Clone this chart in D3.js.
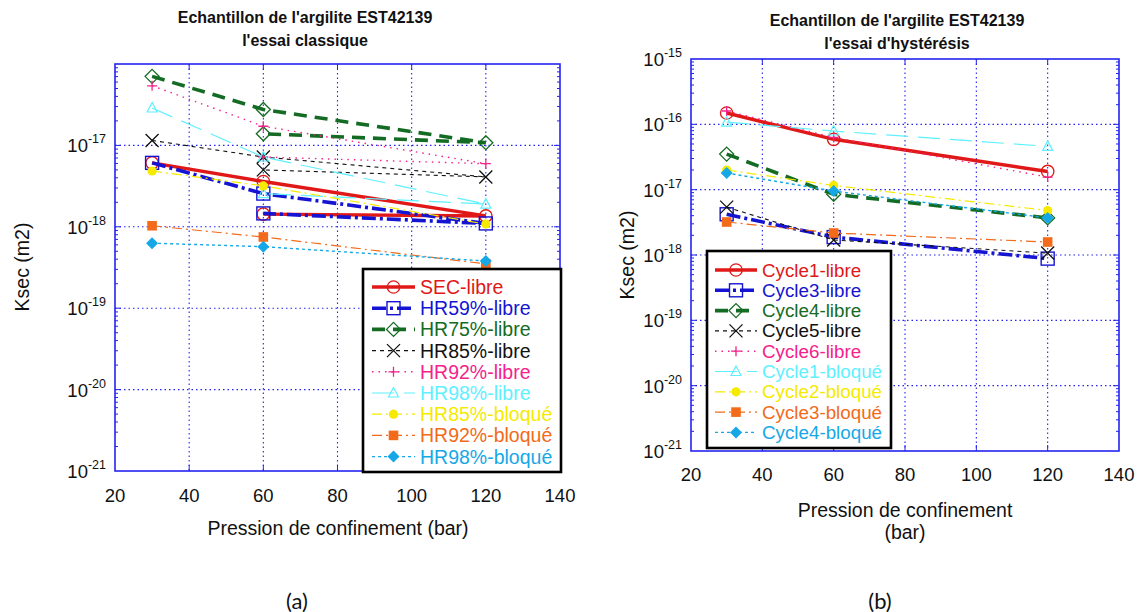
<!DOCTYPE html>
<html>
<head>
<meta charset="utf-8">
<script src="https://cdn.jsdelivr.net/npm/d3@7"></script>
<style>
  html, body { margin: 0; padding: 0; background: #fff; }
  svg { display: block; font-family: "Liberation Sans", Arial, sans-serif; }
</style>
</head>
<body>
<svg id="chart" width="1137" height="612"></svg>
<script>
// ---------- DATA ----------
const pressuresLoop = [30, 60, 120, 60];   // libre series: loading then unloading back to 60 bar
const pressures = [30, 60, 120];

// (a) essai classique
const classicNames = ["SEC-libre", "HR59%-libre", "HR75%-libre", "HR85%-libre", "HR92%-libre",
                      "HR98%-libre", "HR85%-bloqué", "HR92%-bloqué", "HR98%-bloqué"];
const secLibre   = [6.1e-18, 3.6e-18, 1.36e-18, 1.43e-18];
const hr59Libre  = [6.1e-18, 2.56e-18, 1.1e-18, 1.46e-18];
const hr75Libre  = [7.05e-17, 2.76e-17, 1.08e-17, 1.39e-17];
const hr85Libre  = [1.15e-17, 7.2e-18, 4.1e-18, 5.0e-18];
const hr92Libre  = [5.4e-17, 1.72e-17, 5.96e-18, 7.2e-18];
const hr98Libre  = [2.88e-17, 7.2e-18, 1.9e-18, 2.56e-18];
const hr85Bloque = [4.85e-18, 3.18e-18, 1.08e-18];
const hr92Bloque = [1.03e-18, 7.5e-19, 3.5e-19];
const hr98Bloque = [6.3e-19, 5.7e-19, 3.8e-19];

// (b) essai d'hystérésis
const hystNames = ["Cycle1-libre", "Cycle3-libre", "Cycle4-libre", "Cycle5-libre", "Cycle6-libre",
                   "Cycle1-bloqué", "Cycle2-bloqué", "Cycle3-bloqué", "Cycle4-bloqué"];
const cycle1Libre  = [1.49e-16, 5.9e-17, 1.9e-17];
const cycle3Libre  = [4.2e-18, 1.88e-18, 8.8e-19];
const cycle4Libre  = [3.5e-17, 8.5e-18, 3.7e-18];
const cycle5Libre  = [5.4e-18, 1.7e-18, 1.07e-18];
const cycle6Libre  = [1.6e-16, 6.3e-17, 1.56e-17];
const cycle1Bloque = [1.08e-16, 7.9e-17, 4.6e-17];
const cycle2Bloque = [2.0e-17, 1.16e-17, 4.8e-18];
const cycle3Bloque = [3.2e-18, 2.17e-18, 1.58e-18];
const cycle4Bloque = [1.8e-17, 9.5e-18, 3.7e-18];

const xTicks = [20, 40, 60, 80, 100, 120, 140];
const yExpA = [-21, -20, -19, -18, -17];
const yExpB = [-21, -20, -19, -18, -17, -16, -15];

// ---------- STYLES ----------
const styles = [
  { color: "#e01818", width: 3.4, dash: null, marker: "circleOpen" },
  { color: "#1414d2", width: 3.6, dash: "14,4,3,4", marker: "squareOpen" },
  { color: "#146b23", width: 3.6, dash: "13,8", marker: "diamondOpen" },
  { color: "#111111", width: 1.1, dash: "4,4", marker: "x" },
  { color: "#f5228c", width: 1.4, dash: "1.5,5", marker: "plus" },
  { color: "#5ef0ff", width: 1.2, dash: "22,10", marker: "triangleOpen" },
  { color: "#f5ea00", width: 1.2, dash: "10,4,2,4", marker: "dot" },
  { color: "#f26a1a", width: 1.2, dash: "10,4,2,4", marker: "squareFilled" },
  { color: "#16a8e6", width: 1.4, dash: "3,3", marker: "diamondFilled" }
];

const svg = d3.select("#chart");
const gridBlue = "#2323f0";

function drawMarker(g, type, cx, cy, color) {
  const s = g.append("g").attr("transform", `translate(${cx},${cy})`);
  switch (type) {
    case "circleOpen":
      s.append("circle").attr("r", 6.2).attr("fill", "none").attr("stroke", color).attr("stroke-width", 1.3); break;
    case "squareOpen":
      s.append("rect").attr("x", -6.5).attr("y", -6.5).attr("width", 13).attr("height", 13)
        .attr("fill", "none").attr("stroke", color).attr("stroke-width", 1.4); break;
    case "diamondOpen":
      s.append("path").attr("d", "M0,-7L7,0L0,7L-7,0Z").attr("fill", "none").attr("stroke", color).attr("stroke-width", 1.3); break;
    case "x":
      s.append("path").attr("d", "M-6.5,-6.5L6.5,6.5M-6.5,6.5L6.5,-6.5").attr("stroke", color).attr("stroke-width", 1.3); break;
    case "plus":
      s.append("path").attr("d", "M-5,0L5,0M0,-5L0,5").attr("stroke", color).attr("stroke-width", 1.3); break;
    case "triangleOpen":
      s.append("path").attr("d", "M0,-5.5L5,4L-5,4Z").attr("fill", "none").attr("stroke", color).attr("stroke-width", 1.2); break;
    case "dot":
      s.append("circle").attr("r", 4.6).attr("fill", color); break;
    case "squareFilled":
      s.append("rect").attr("x", -4.8).attr("y", -4.8).attr("width", 9.6).attr("height", 9.6).attr("fill", color); break;
    case "diamondFilled":
      s.append("path").attr("d", "M0,-6L6,0L0,6L-6,0Z").attr("fill", color); break;
  }
}

function drawPanel(cfg) {
  const x = d3.scaleLinear().domain([20, 140]).range([cfg.x0, cfg.x1]);
  const y = d3.scaleLog().domain(cfg.yDomain).range([cfg.y1, cfg.y0]);
  const g = svg.append("g");

  // grid
  const gx = [40, 60, 80, 100, 120];
  g.selectAll(null).data(gx).enter().append("line")
    .attr("x1", d => x(d)).attr("x2", d => x(d)).attr("y1", cfg.y0).attr("y2", cfg.y1)
    .attr("stroke", gridBlue).attr("stroke-width", 1.1).attr("stroke-dasharray", "1.5,3");
  const decades = d3.range(Math.log10(cfg.yDomain[0]) + 1, Math.log10(cfg.yDomain[1]));
  g.selectAll(null).data(decades).enter().append("line")
    .attr("x1", cfg.x0).attr("x2", cfg.x1).attr("y1", d => y(Math.pow(10, d))).attr("y2", d => y(Math.pow(10, d)))
    .attr("stroke", gridBlue).attr("stroke-width", 1.1).attr("stroke-dasharray", "1.5,3");

  // minor ticks (log)
  const minors = [];
  for (let e = Math.log10(cfg.yDomain[0]); e < Math.log10(cfg.yDomain[1]); e++)
    for (let k = 2; k <= 9; k++) minors.push(k * Math.pow(10, e));
  [cfg.x0, cfg.x1].forEach((xx, i) => {
    const dir = i === 0 ? 1 : -1;
    g.selectAll(null).data(minors).enter().append("line")
      .attr("x1", xx).attr("x2", xx + dir * 3).attr("y1", d => y(d)).attr("y2", d => y(d))
      .attr("stroke", gridBlue).attr("stroke-width", 1);
    g.selectAll(null).data(decades).enter().append("line")
      .attr("x1", xx).attr("x2", xx + dir * 6).attr("y1", d => y(Math.pow(10, d))).attr("y2", d => y(Math.pow(10, d)))
      .attr("stroke", gridBlue).attr("stroke-width", 1);
  });
  [cfg.y0, cfg.y1].forEach((yy, i) => {
    const dir = i === 0 ? 1 : -1;
    g.selectAll(null).data(gx).enter().append("line")
      .attr("x1", d => x(d)).attr("x2", d => x(d)).attr("y1", yy).attr("y2", yy + dir * 6)
      .attr("stroke", gridBlue).attr("stroke-width", 1);
  });

  // frame
  g.append("rect").attr("x", cfg.x0).attr("y", cfg.y0).attr("width", cfg.x1 - cfg.x0).attr("height", cfg.y1 - cfg.y0)
    .attr("fill", "none").attr("stroke", gridBlue).attr("stroke-width", 1.6);

  // tick labels
  g.selectAll(null).data(xTicks).enter().append("text")
    .attr("x", d => x(d)).attr("y", cfg.xLabelY).attr("text-anchor", "middle").attr("dominant-baseline", "central")
    .attr("font-size", 18.5).attr("fill", "#111").text(d => d);
  cfg.yExp.forEach(e => {
    const t = g.append("text").attr("x", cfg.x0 - 9).attr("y", y(Math.pow(10, e)) + 7)
      .attr("text-anchor", "end").attr("font-size", 18.5).attr("fill", "#111");
    t.append("tspan").text("10");
    t.append("tspan").attr("dy", -9).attr("font-size", 12.5).text(e);
  });

  // axis titles
  g.append("text").attr("transform", `translate(${cfg.yTitleX},${cfg.yTitleY}) rotate(-90)`)
    .attr("text-anchor", "middle").attr("dominant-baseline", "central").attr("font-size", 19.5).attr("fill", "#111")
    .text("Ksec (m2)");
  cfg.xTitle.forEach((line, i) => {
    g.append("text").attr("x", cfg.xTitleX).attr("y", cfg.xTitleY[i]).attr("text-anchor", "middle")
      .attr("dominant-baseline", "central").attr("font-size", 19.5).attr("fill", "#111").text(line);
  });
  cfg.title.forEach((line, i) => {
    g.append("text").attr("x", cfg.titleX).attr("y", cfg.titleY[i]).attr("text-anchor", "middle")
      .attr("dominant-baseline", "central").attr("font-size", 16).attr("font-weight", "bold").attr("fill", "#111").text(line);
  });

  // series
  const line = d3.line().x(d => x(d[0])).y(d => y(d[1]));
  cfg.series.forEach((vals, i) => {
    const st = styles[i];
    const xs = vals.length === 4 ? pressuresLoop : pressures;
    const pts = vals.map((v, j) => [xs[j], v]);
    g.append("path").attr("d", line(pts)).attr("fill", "none").attr("stroke", st.color)
      .attr("stroke-width", st.width).attr("stroke-dasharray", st.dash);
    pts.forEach(p => drawMarker(g, st.marker, x(p[0]), y(p[1]), st.color));
  });

  // legend
  const L = cfg.legend;
  g.append("rect").attr("x", L.x0).attr("y", L.y0).attr("width", L.x1 - L.x0).attr("height", L.y1 - L.y0)
    .attr("fill", "#fff").attr("stroke", "#000").attr("stroke-width", 2.6);
  cfg.names.forEach((name, i) => {
    const st = styles[i];
    const yy = L.row0 + i * L.step;
    g.append("line").attr("x1", L.s0).attr("x2", L.s1).attr("y1", yy).attr("y2", yy)
      .attr("stroke", st.color).attr("stroke-width", st.width).attr("stroke-dasharray", st.dash);
    drawMarker(g, st.marker, (L.s0 + L.s1) / 2, yy, st.color);
    g.append("text").attr("x", L.tx).attr("y", yy).attr("dominant-baseline", "central")
      .attr("font-size", L.fs).attr("fill", st.color).text(name);
  });
}

drawPanel({
  x0: 115, x1: 560, y0: 64, y1: 471, yDomain: [1e-21, 1e-16], yExp: yExpA,
  xLabelY: 495, yTitleX: 22, yTitleY: 267,
  xTitle: ["Pression de confinement (bar)"], xTitleX: 338, xTitleY: [528],
  title: ["Echantillon de l'argilite EST42139", "l'essai classique"], titleX: 305, titleY: [17, 40],
  series: [secLibre, hr59Libre, hr75Libre, hr85Libre, hr92Libre, hr98Libre, hr85Bloque, hr92Bloque, hr98Bloque],
  names: classicNames,
  legend: { x0: 363, x1: 561, y0: 269, y1: 472, row0: 287, step: 21.2, s0: 372, s1: 415, tx: 420, fs: 19.5 }
});

drawPanel({
  x0: 691, x1: 1119, y0: 59, y1: 451, yDomain: [1e-21, 1e-15], yExp: yExpB,
  xLabelY: 474, yTitleX: 627, yTitleY: 255,
  xTitle: ["Pression de confinement", "(bar)"], xTitleX: 905, xTitleY: [510, 532],
  title: ["Echantillon de l'argilite EST42139", "l'essai d'hystérésis"], titleX: 897, titleY: [20, 43],
  series: [cycle1Libre, cycle3Libre, cycle4Libre, cycle5Libre, cycle6Libre, cycle1Bloque, cycle2Bloque, cycle3Bloque, cycle4Bloque],
  names: hystNames,
  legend: { x0: 707, x1: 891, y0: 251, y1: 448, row0: 270, step: 20.3, s0: 715, s1: 757, tx: 762, fs: 18.8 }
});

// panel labels
svg.append("text").attr("x", 297).attr("y", 600).attr("text-anchor", "middle").attr("dominant-baseline", "central")
  .attr("font-family", "Lato, 'Open Sans', sans-serif").attr("font-size", 22).attr("fill", "#111").text("(a)");
svg.append("text").attr("x", 880).attr("y", 600).attr("text-anchor", "middle").attr("dominant-baseline", "central")
  .attr("font-family", "Lato, 'Open Sans', sans-serif").attr("font-size", 22).attr("fill", "#111").text("(b)");
</script>
</body>
</html>
